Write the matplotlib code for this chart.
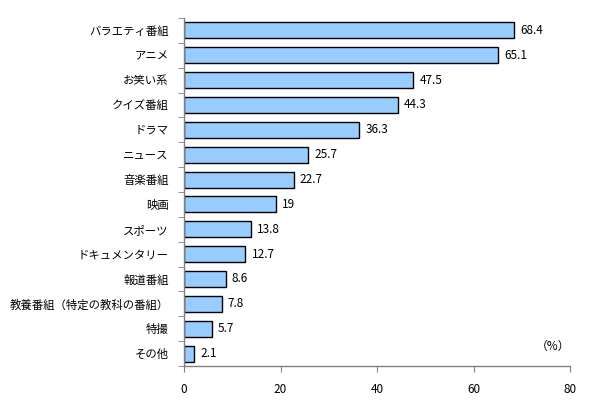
import matplotlib
matplotlib.use("Agg")
import matplotlib.pyplot as plt
import numpy as np

plt.rcParams['font.family'] = ['Noto Sans CJK JP', 'DejaVu Sans']

categories = ["バラエティ番組", "アニメ", "お笑い系", "クイズ番組", "ドラマ", "ニュース", "音楽番組",
              "映画", "スポーツ", "ドキュメンタリー", "報道番組", "教養番組（特定の教科の番組）", "特撮", "その他"]
values = [68.4, 65.1, 47.5, 44.3, 36.3, 25.7, 22.7, 19, 13.8, 12.7, 8.6, 7.8, 5.7, 2.1]
value_labels = ["68.4", "65.1", "47.5", "44.3", "36.3", "25.7", "22.7", "19", "13.8", "12.7", "8.6", "7.8", "5.7", "2.1"]
xticks = [0, 20, 40, 60, 80]

fig = plt.figure(figsize=(6, 4), dpi=100)
ax = fig.add_axes([0.3067, 0.085, 0.6433, 0.87])

n = len(categories)
y = np.arange(n)
ax.barh(y, values, height=0.64, color="#99CCFF", edgecolor="black", linewidth=1.0)
for yi, v, lab in zip(y, values, value_labels):
    ax.text(v + 1.3, yi, lab, va="center", ha="left", fontsize=8.5, color="black")

ax.set_ylim(n - 0.5, -0.5)
ax.set_xlim(0, 80)
ax.set_yticks(y)
ax.set_yticklabels(categories, fontsize=8.2)
ax.tick_params(axis="y", which="major", length=0, pad=11)
ax.set_yticks(np.arange(n + 1) - 0.5, minor=True)
ax.tick_params(axis="y", which="minor", length=4, color="#808080", direction="out")
ax.set_xticks(xticks)
ax.set_xticklabels([str(t) for t in xticks], fontsize=8.5)
ax.tick_params(axis="x", length=4, color="#808080", direction="out", pad=8)

for s in ["top", "right"]:
    ax.spines[s].set_visible(False)
for s in ["left", "bottom"]:
    ax.spines[s].set_color("#808080")
    ax.spines[s].set_linewidth(1.0)

ax.text(76.5, n - 1.3, "（%）", ha="center", va="center", fontsize=8.5)

fig.savefig("out.png", dpi=100)
